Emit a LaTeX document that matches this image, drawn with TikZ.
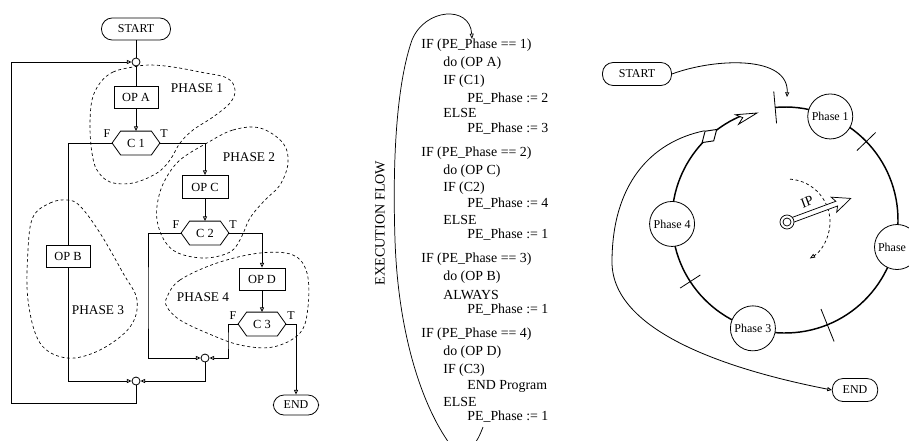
\documentclass[tikz,border=0pt]{standalone}
\usepackage{fontspec}
\setmainfont{Liberation Serif}
\usetikzlibrary{arrows.meta,calc,shapes.geometric}
\begin{document}
\begin{tikzpicture}[x=0.75pt,y=-0.75pt, line width=0.6pt,
 box/.style={draw, minimum width=33pt, minimum height=16.5pt, inner sep=0pt, font=\fontsize{9.3}{11}\selectfont},
 term/.style={draw, rounded corners=8pt, minimum width=51.75pt, minimum height=16.5pt, inner sep=0pt, font=\fontsize{9}{11}\selectfont},
 hexin/.style={minimum width=22.5pt, minimum height=17.25pt, inner sep=0pt, font=\fontsize{9.3}{11}\selectfont},
 junc/.style={draw, circle, minimum size=6pt, inner sep=0pt},
 flow/.style={-{Triangle[open,length=3.5pt,width=3pt]}},
 phase/.style={dash pattern=on 2.2pt off 2pt, line width=0.5pt},
 plabel/.style={font=\fontsize{10}{12}\selectfont},
 tf/.style={font=\fontsize{9}{11}\selectfont, inner sep=0pt},
 code/.style={anchor=west, inner sep=0pt, font=\fontsize{10.4}{12}\selectfont},
 pnode/.style={draw, circle, fill=white, minimum size=33.75pt, inner sep=0pt, font=\fontsize{9}{11}\selectfont},
 bigc/.style={line width=1.1pt},
]
\useasboundingbox (0,0) rectangle (909,440);

% ---------------- left flowchart ----------------
\draw[phase] plot[smooth cycle, tension=0.6] coordinates {(100,83) (113,72) (133,67) (150,65) (173,67) (200,72) (227,78) (235,90) (230,103) (213,117) (193,130) (180,143) (170,160) (157,173) (133,183) (110,182) (97,170) (92,153) (90,127) (92,100)};
\draw[phase] plot[smooth cycle, tension=0.6] coordinates {(207,143) (233,130) (260,128) (283,143) (288,163) (280,185) (265,200) (250,218) (241,238) (230,252) (205,258) (178,253) (164,240) (157,220) (158,200) (165,180) (180,160)};
\draw[phase] plot[smooth cycle, tension=0.6] coordinates {(33,217) (50,203) (67,200) (80,206) (100,233) (123,273) (137,300) (130,327) (100,350) (67,358) (40,343) (28,300) (28,250)};
\draw[phase] plot[smooth cycle, tension=0.6] coordinates {(167,297) (180,280) (217,263) (260,253) (293,255) (307,273) (308,307) (300,333) (273,347) (240,345) (207,333) (180,320) (167,307)};

\node[plabel] (ph1) at (197,88) {PHASE 1};
\node[plabel] (ph2) at (249,157) {PHASE 2};
\node[plabel] (ph3) at (98,310) {PHASE 3};
\node[plabel] (ph4) at (203,297) {PHASE 4};

\node[term] (startL) at (136,29) {START};
\node[junc] (j1) at (136,62) {};
\node[box] (opA) at (136,97) {OP A};
\node[hexin] (c1) at (136,143) {C 1};
\node[box] (opB) at (68,256) {OP B};
\node[box, minimum width=34.5pt, minimum height=17.25pt] (opC) at (205,187) {OP C};
\node[hexin] (c2) at (205,233) {C 2};
\node[box, minimum width=34.5pt] (opD) at (262,279) {OP D};
\node[hexin] (c3) at (262,324) {C 3};
\node[term, minimum width=34pt, minimum height=15pt] (endL) at (296,405) {END};
\node[junc] (j2) at (205,358) {};
\node[junc] (j3) at (136,381) {};

\foreach \h in {c1,c2,c3}{
  \coordinate (\h L) at ($(\h.west)+(-8.5,0)$);
  \coordinate (\h R) at ($(\h.east)+(8.5,0)$);
  \draw (\h L) -- (\h.north west) -- (\h.north east) -- (\h R) -- (\h.south east) -- (\h.south west) -- cycle;
}

\node[tf] (f1) at (107,134) {F};
\node[tf] (t1) at (164,134) {T};
\node[tf] (f2) at (176,225) {F};
\node[tf] (t2) at (233,225) {T};
\node[tf] (f3) at (233,316) {F};
\node[tf] (t3) at (291,316) {T};

\draw (startL) -- (j1);
\draw (j1) -- (opA);
\draw[flow] (opA) -- (c1);
\draw[flow] (c1R) -| (opC);
\draw (c1L) -| (opB);
\draw[flow] (opB) |- (j3);
\draw[flow] (opC) -- (c2);
\draw[flow] (c2L) -| (148,300) |- (j2);
\draw[flow] (c2R) -| (opD);
\draw[flow] (opD) -- (c3);
\draw[flow] (c3L) -| (228,340) |- (j2);
\draw[flow] (c3R) -| (endL);
\draw[flow] (j2) |- (j3);
\draw[flow] (j3) |- (11,403) |- (j1);

% ---------------- execution code ----------------
\node[code] (l1) at (421,45) {IF (PE\_Phase == 1)};
\node[code] (l2) at (443,63) {do (OP A)};
\node[code] (l3) at (443,81) {IF (C1)};
\node[code] (l4) at (467,99) {PE\_Phase := 2};
\node[code] (l5) at (443,113) {ELSE};
\node[code] (l6) at (467,129) {PE\_Phase := 3};
\node[code] (l7) at (421,153) {IF (PE\_Phase == 2)};
\node[code] (l8) at (443,171) {do (OP C)};
\node[code] (l9) at (443,188) {IF (C2)};
\node[code] (l10) at (467,204) {PE\_Phase := 4};
\node[code] (l11) at (443,220) {ELSE};
\node[code] (l12) at (467,235) {PE\_Phase := 1};
\node[code] (l13) at (421,259) {IF (PE\_Phase == 3)};
\node[code] (l14) at (443,277) {do (OP B)};
\node[code] (l15) at (443,295) {ALWAYS};
\node[code] (l16) at (467,310) {PE\_Phase := 1};
\node[code] (l17) at (421,334) {IF (PE\_Phase == 4)};
\node[code] (l18) at (443,352) {do (OP D)};
\node[code] (l19) at (443,370) {IF (C3)};
\node[code] (l20) at (467,386) {END Program};
\node[code] (l21) at (443,402) {ELSE};
\node[code] (l22) at (467,417) {PE\_Phase := 1};

\node[rotate=90, inner sep=0pt, font=\fontsize{10.6}{12}\selectfont] (ef) at (380,223) {EXECUTION FLOW};

\coordinate (efTip) at (472,39);
\begin{scope}
\clip (0,0) rectangle (909,440);
\draw[line width=0.55pt, -{Triangle[open,length=4pt,width=3pt]}] (483,427) .. controls (470,462) and (455,455) .. (447,440)
  .. controls (420,400) and (398,330) .. (395,240)
  .. controls (392,150) and (398,80) .. (412,40)
  .. controls (425,8) and (470,5) .. (efTip);
\end{scope}

% ---------------- right: phase ring ----------------
\coordinate (cc) at (785,220);
\draw[bigc] ($(cc)+(-95:113)$) arc[start angle=-95, end angle=247.6, radius=113];
% open notched arrow head at the end of the ring
\begin{scope}[shift={(757,113)}, rotate=18]
\draw[fill=white, line width=0.6pt] (0,0) -- (-21,-5) -- (-15,0) -- (-21,5) -- cycle;
\end{scope}

\draw ($(cc)+(-95:97)$) -- ($(cc)+(-95:129)$);
\draw ($(cc)+(-44:100)$) -- ($(cc)+(-44:126)$);
\draw ($(cc)+(68:96)$) -- ($(cc)+(68:131)$);
\draw ($(cc)+(147:101)$) -- ($(cc)+(147:125)$);

\node[pnode] (p1) at ($(cc)+(-66.4:113)$) {Phase 1};
\node[pnode] (p2) at (897,247) {};
\node[inner sep=0pt, font=\fontsize{9}{11}\selectfont] (p2t) at (892,247) {Phase};
\node[pnode] (p3) at ($(cc)+(106.5:113)$) {Phase 3};
\node[pnode] (p4) at ($(cc)+(178:113)$) {Phase 4};

\node[diamond, draw, fill=white, minimum width=15pt, minimum height=10pt, inner sep=0pt, rotate=42, line width=0.7pt] (dia) at ($(cc)+(228:113)$) {};

\node[term, minimum height=17.25pt] (startR) at (637,74) {START};
\node[term, minimum width=34pt, minimum height=17.25pt] (endR) at (855,390) {END};

\coordinate (sTip) at (787,97);
\draw[flow] (startR.east) .. controls (715,58) and (789,55) .. (sTip);
\draw[flow] (dia.north) .. controls (650,142) and (612,185) .. (612,262)
  .. controls (612,335) and (740,372) .. (endR.west);

% IP pointer
\draw[dash pattern=on 2.2pt off 2pt, line width=0.55pt, -{Triangle[open,length=4pt,width=3pt]}] ($(787,222)+(-86:43)$) arc[start angle=-86, end angle=58, radius=43];
\begin{scope}[shift={(787,222)}, rotate=20.3]
\draw[fill=white, line width=0.55pt] (6,-2.5) -- (53,-2.5) -- (50,-8) -- (68,0) -- (50,8) -- (53,2.5) -- (6,2.5);
\end{scope}
\node[circle, draw, fill=white, minimum size=10.5pt, inner sep=0pt, line width=0.55pt] (ipo) at (787,222) {};
\node[circle, draw, minimum size=6pt, inner sep=0pt, line width=0.55pt] (ipi) at (ipo.center) {};
\node[rotate=20.3, inner sep=0pt, font=\fontsize{10.4}{12}\selectfont] (ip) at (807,202) {IP};

\end{tikzpicture}
\end{document}
